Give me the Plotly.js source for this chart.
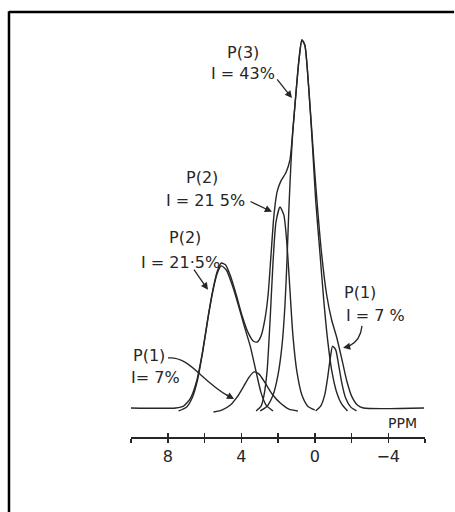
<!DOCTYPE html>
<html>
<head>
<meta charset="utf-8">
<script src="https://cdn.plot.ly/plotly-3.0.1.min.js"></script>
<style>html,body{margin:0;padding:0;background:#fff;overflow:hidden;}#chart{width:455px;height:512px;}</style>
</head>
<body>
<div id="chart"></div>
<script>
// Chemical shift (PPM) and intensity (% of the tallest peak)
const envelopePPM = [10.00, 7.57, 7.14, 6.76, 6.43, 6.11, 5.78, 5.51, 5.30, 5.08, 4.86, 4.59, 4.27, 3.95, 3.62, 3.35, 3.14, 2.92, 2.70, 2.54, 2.38, 2.22, 2.05, 1.84, 1.57, 1.35, 1.19, 1.03, 0.86, 0.70, 0.54, 0.32, 0.05, -0.16, -0.38, -0.65, -0.92, -1.19, -1.46, -1.73, -2.00, -2.32, -2.65, -5.95];
const envelopeI   = [0, 0, 0.5, 2.7, 7.3, 15.2, 25.5, 32.9, 37.2, 39.4, 38.9, 35.9, 30.7, 25.0, 20.4, 18.2, 17.9, 19.6, 24.5, 30.7, 41.6, 52.4, 58.7, 61.7, 63.9, 67.4, 75.5, 85.1, 94.6, 100, 98.6, 86.4, 67.4, 53.8, 41.6, 30.7, 23.9, 19.3, 13.6, 7.6, 3.3, 0.8, 0, 0];

const p2LeftPPM = [7.41, 6.97, 6.65, 6.38, 6.11, 5.78, 5.51, 5.30, 5.08, 4.81, 4.49, 4.16, 3.84, 3.51, 3.19, 2.92, 2.65, 2.27];
const p2LeftI   = [-0.8, 0.3, 3.0, 7.6, 14.9, 25.3, 32.6, 36.7, 38.6, 37.5, 33.4, 28.0, 22.3, 16.8, 9.8, 4.1, 0.8, -0.8];

const p1LeftPPM = [5.51, 5.03, 4.59, 4.22, 3.89, 3.57, 3.30, 3.03, 2.70, 2.32, 1.89, 1.41, 0.92];
const p1LeftI   = [-1.1, -0.5, 0.8, 3.0, 5.7, 8.4, 9.8, 9.2, 6.8, 3.8, 1.4, -0.3, -0.8];

const p2MidPPM = [3.19, 2.92, 2.76, 2.59, 2.43, 2.27, 2.11, 1.89, 1.68, 1.51, 1.35, 1.19, 0.97, 0.70, 0.38, 0.00];
const p2MidI   = [-0.8, 0.5, 3.5, 10.3, 23.9, 39.7, 50.5, 54.6, 52.4, 44.3, 32.1, 19.8, 9.8, 3.5, 0.5, -0.5];

const p3PPM = [2.97, 2.59, 2.27, 2.00, 1.78, 1.62, 1.51, 1.41, 1.30, 1.19, 1.03, 0.86, 0.70, 0.54, 0.32, 0.11, -0.05, -0.27, -0.49, -0.70, -0.92, -1.19, -1.46, -1.78];
const p3I   = [-0.8, 0.5, 3.5, 9.0, 17.1, 28.0, 40.2, 53.8, 66.0, 75.5, 85.1, 94.6, 100, 98.6, 86.4, 70.1, 56.5, 42.9, 29.3, 18.5, 10.3, 4.3, 1.1, -0.8];

const p1RightPPM = [-0.05, -0.32, -0.54, -0.70, -0.86, -0.97, -1.14, -1.30, -1.46, -1.68, -1.95, -2.27];
const p1RightI   = [-0.8, 0.5, 3.5, 8.2, 14.1, 16.8, 15.8, 11.7, 7.1, 2.7, 0.3, -0.8];

const tickValues = [10, 8, 6, 4, 2, 0, -2, -4, -6];
const tickLabels = ['', '8', '', '4', '', '0', '', '\u22124', ''];

const INK = '#262626';
const FONT = 'DejaVu Sans';

function curve(x, y) {
  return {x: x, y: y, type: 'scatter', mode: 'lines',
          line: {color: INK, width: 1.4, shape: 'spline', smoothing: 0.6},
          hoverinfo: 'skip', showlegend: false};
}

const traces = [
  curve(envelopePPM, envelopeI),
  curve(p2LeftPPM, p2LeftI),
  curve(p1LeftPPM, p1LeftI),
  curve(p2MidPPM, p2MidI),
  curve(p3PPM, p3I),
  curve(p1RightPPM, p1RightI),
  {x: [], y: [], xaxis: 'x2', type: 'scatter', mode: 'lines', showlegend: false, hoverinfo: 'skip'}
];

function label(text, x, y, size) {
  return {text: text, x: x, y: y, xref: 'x', yref: 'y', showarrow: false,
          font: {family: FONT, size: size || 16, color: INK}, xanchor: 'center', yanchor: 'middle'};
}
function arrow(tx, ty, hx, hy) {
  return {text: '', x: hx, y: hy, ax: tx, ay: ty, xref: 'x', yref: 'y', axref: 'x', ayref: 'y',
          showarrow: true, arrowhead: 2, arrowsize: 1.1, arrowwidth: 1.3, arrowcolor: INK};
}

const annotations = [
  label('P(3)', 3.90, 96.5),
  label('I = 43%', 3.90, 91.0),
  arrow(2.11, 89.7, 1.24, 84.2),
  label('P(2)', 6.14, 62.5),
  label('I = 21 5%', 5.97, 56.5),
  arrow(3.58, 56.3, 2.33, 53.3),
  label('P(2)', 7.06, 46.2),
  label('I = 21\u00b75%', 7.33, 39.4),
  arrow(6.63, 38.0, 5.81, 32.1),
  label('P(1)', 9.02, 14.4),
  label('I= 7%', 8.69, 8.2),
  arrow(4.88, 3.8, 4.39, 2.45),
  label('P(1)', -2.46, 31.25),
  label('I = 7 %', -3.28, 25.0),
  arrow(-1.92, 16.8, -1.54, 16.4),
  label('PPM', -4.80, -4.08, 14)
];

const shapes = [
  // curved leader lines of the two P(1) labels
  {type: 'path', xref: 'x', yref: 'y', path: 'M 7.99,13.6 C 6.79,14.1 6.24,7.6 4.72,3.3', line: {color: INK, width: 1.3}},
  {type: 'path', xref: 'x', yref: 'y', path: 'M -2.57,22.3 C -2.52,19.6 -2.24,17.7 -1.87,16.8', line: {color: INK, width: 1.3}},
  // frame lines (top and left) of the scanned figure
  {type: 'line', xref: 'paper', yref: 'paper', x0: -0.415, x1: 1.099, y0: 1.044, y1: 1.044, line: {color: '#000', width: 2.5}},
  {type: 'line', xref: 'paper', yref: 'paper', x0: -0.415, x1: -0.415, y0: 1.046, y1: -0.2, line: {color: '#000', width: 2.5}}
];

const layout = {
  width: 455, height: 512,
  margin: {l: 131, r: 30, t: 30, b: 75},
  paper_bgcolor: '#fff', plot_bgcolor: '#fff',
  showlegend: false,
  xaxis: {range: [10, -6], showgrid: false, zeroline: false, showline: true, linecolor: INK, linewidth: 1.5,
          ticks: 'outside', ticklen: 4, tickwidth: 1.5, tickcolor: INK,
          tickvals: tickValues, ticktext: tickLabels,
          tickfont: {family: FONT, size: 16, color: INK}, fixedrange: true},
  xaxis2: {range: [10, -6], overlaying: 'x', anchor: 'y', side: 'bottom', showgrid: false, zeroline: false,
           showline: false, ticks: 'inside', ticklen: 4, tickwidth: 1.5, tickcolor: INK,
           tickvals: tickValues, showticklabels: false, fixedrange: true},
  yaxis: {range: [-7.88, 102.7], visible: false, showgrid: false, zeroline: false, fixedrange: true},
  annotations: annotations,
  shapes: shapes
};

Plotly.newPlot('chart', traces, layout, {displayModeBar: false, staticPlot: true});
</script>
</body>
</html>
